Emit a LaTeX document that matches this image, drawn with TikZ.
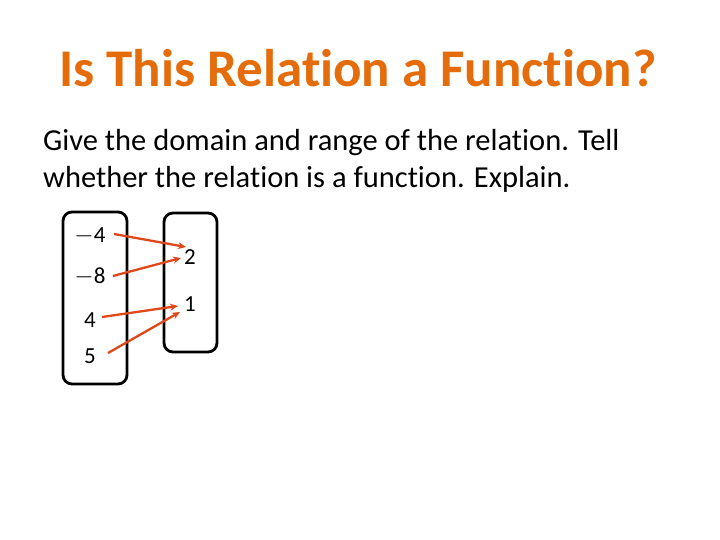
\documentclass[tikz,border=0pt]{standalone}
\usepackage{fontspec}
\usetikzlibrary{arrows.meta}
\setmainfont[Ligatures=NoCommon]{Carlito}
\definecolor{ttl}{HTML}{E46C0A}
\definecolor{arr}{HTML}{E0481A}
\begin{document}
\begin{tikzpicture}[x=1pt,y=-1pt,
  setbox/.style={draw=black,line width=2.8pt,rounded corners=9pt},
  num/.style={font=\fontsize{23}{27}\selectfont,inner sep=0pt},
  maparrow/.style={draw=arr,line width=2.3pt,-{Stealth[length=8pt,width=7pt]}}]
\useasboundingbox (0,0) rectangle (720,540);
\node[font=\bfseries\fontsize{53}{60}\selectfont,text=ttl] (title) at (358,68) {Is This Relation a Function?};
\node[anchor=west,font=\fontsize{30.5}{37}\selectfont,align=left,inner sep=0pt] (body) at (43,161)
 {Give the domain and range of the relation. Tell\\whether the relation is a function. Explain.};
\draw[setbox] (63,212) rectangle (127,384);
\draw[setbox] (164,213) rectangle (217,352);
\node[num] (a) at (90,236) {$-$4};
\node[num] (b) at (90,277) {$-$8};
\node[num] (c) at (90,320) {4};
\node[num] (d) at (90,356) {5};
\node[num] (r2) at (190,257) {2};
\node[num] (r1) at (190,304) {1};
\coordinate (a1) at (114,234); \coordinate (a2) at (186,247);
\coordinate (b1) at (113,276); \coordinate (b2) at (181,258);
\coordinate (c1) at (102,317); \coordinate (c2) at (178,306);
\coordinate (d1) at (108,353); \coordinate (d2) at (180,312);
\draw[maparrow] (a1) -- (a2);
\draw[maparrow] (b1) -- (b2);
\draw[maparrow] (c1) -- (c2);
\draw[maparrow] (d1) -- (d2);
\end{tikzpicture}
\end{document}
